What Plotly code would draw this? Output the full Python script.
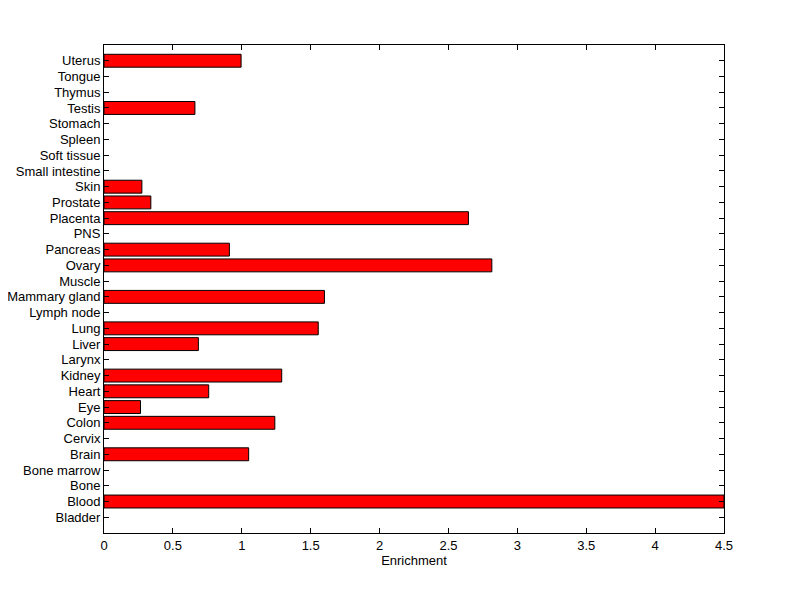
import plotly.graph_objects as go

categories = ["Bladder", "Blood", "Bone", "Bone marrow", "Brain", "Cervix", "Colon", "Eye",
              "Heart", "Kidney", "Larynx", "Liver", "Lung", "Lymph node", "Mammary gland",
              "Muscle", "Ovary", "Pancreas", "PNS", "Placenta", "Prostate", "Skin",
              "Small intestine", "Soft tissue", "Spleen", "Stomach", "Testis", "Thymus",
              "Tongue", "Uterus"]
enrichment = [0, 4.5, 0, 0, 1.05, 0, 1.24, 0.265,
              0.76, 1.29, 0, 0.685, 1.555, 0, 1.60,
              0, 2.815, 0.91, 0, 2.645, 0.34, 0.275,
              0, 0, 0, 0, 0.66, 0,
              0, 0.995]

x_ticks = [0, 0.5, 1, 1.5, 2, 2.5, 3, 3.5, 4, 4.5]
x_tick_labels = ["0", "0.5", "1", "1.5", "2", "2.5", "3", "3.5", "4", "4.5"]

ypos = list(range(len(categories)))
xs = [v if v > 0 else None for v in enrichment]

fig = go.Figure(go.Bar(
    x=xs, y=ypos, orientation="h", width=0.82,
    marker=dict(color="#ff0000", line=dict(color="black", width=1)),
    cliponaxis=True,
))

fig.update_layout(
    width=792, height=591,
    margin=dict(l=96, r=76, t=37, b=66),
    plot_bgcolor="white", paper_bgcolor="white",
    font=dict(family="Liberation Sans, Arial, sans-serif", size=13, color="black"),
    showlegend=False,
)
fig.update_xaxes(
    range=[0, 4.5], tickvals=x_ticks, ticktext=x_tick_labels,
    ticks="inside", ticklen=5, tickcolor="black", tickwidth=1,
    showline=True, linecolor="black", linewidth=1, mirror="allticks",
    showgrid=False, zeroline=False, automargin=False,
    title=dict(text="Enrichment", font=dict(size=13), standoff=4),
)
fig.update_yaxes(
    range=[-1, 30], tickvals=ypos, ticktext=categories,
    ticks="inside", ticklen=5, tickcolor="black", tickwidth=1,
    showline=True, linecolor="black", linewidth=1, mirror="allticks",
    showgrid=False, zeroline=False, automargin=False,
)
fig.write_html("out.html")
